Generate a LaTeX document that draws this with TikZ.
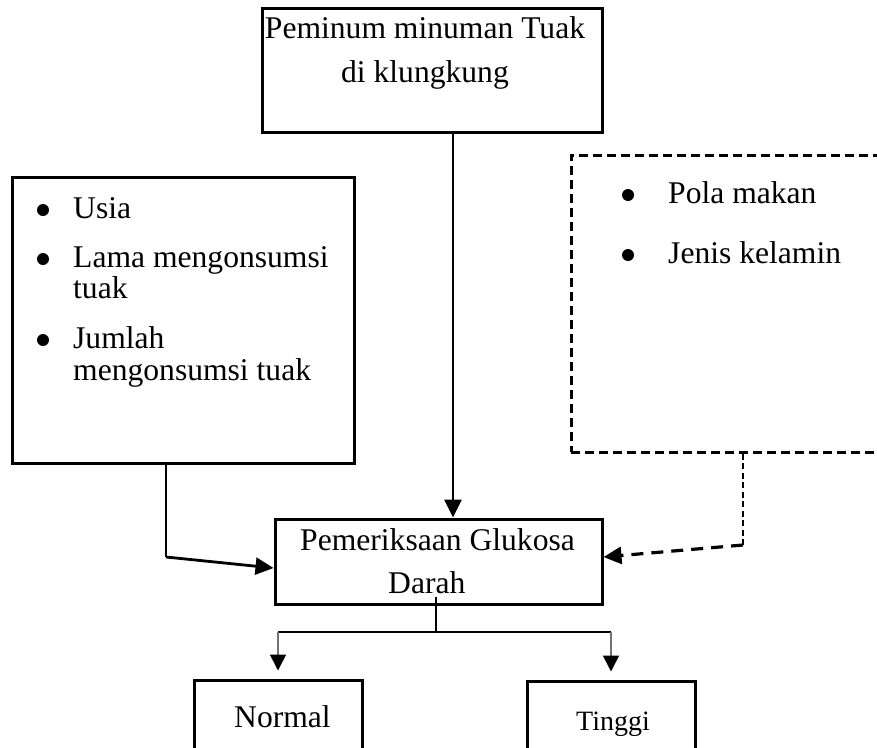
\documentclass[tikz,border=0pt]{standalone}
\usepackage{fontspec}
\setmainfont{Liberation Serif}
\usetikzlibrary{arrows.meta,calc}
\begin{document}
\begin{tikzpicture}[x=1pt,y=-1pt,
  every node/.style={font=\fontsize{31.6}{35}\selectfont},
  boxnode/.style={draw,line width=3pt,inner sep=0pt,rectangle},
  dbox/.style={draw,line width=3pt,dash pattern=on 9pt off 5pt,inner sep=0pt,rectangle},
  txt/.style={anchor=base west,inner sep=0pt},
  bul/.style={circle,fill=black,inner sep=0pt,minimum size=12pt},
  arr/.style={line width=2.8pt,-{Triangle[length=18pt,width=17pt]}},
  thin/.style={line width=1.6pt},
  sarr/.style={line width=1.6pt,draw=black!55,-{Triangle[length=16pt,width=16pt,color=black]}}
]
\useasboundingbox (0,0) rectangle (877,747);

% boxes
\node[boxnode,minimum width=340pt,minimum height=124pt] (top) at (432,70) {};
\node[boxnode,minimum width=342pt,minimum height=286pt] (left) at (183,320) {};
\node[dbox,minimum width=329pt,minimum height=297pt] (right) at (735.5,303.5) {};
\node[boxnode,minimum width=327pt,minimum height=85pt] (pem) at (438.5,561.5) {};
\node[boxnode,minimum width=168pt,minimum height=72pt] (normal) at (278,716) {};
\node[boxnode,minimum width=168pt,minimum height=71pt] (tinggi) at (611,716.5) {};

% texts
\node[anchor=base,inner sep=0pt] (t1) at (425,38) {Peminum minuman Tuak};
\node[anchor=base,inner sep=0pt] (t2) at (425,82) {di klungkung};

\node[bul] (b1) at (43,210) {};
\node[txt] (l1) at (73,218) {Usia};
\node[bul] (b2) at (43,259) {};
\node[txt] (l2) at (73,267) {Lama mengonsumsi};
\node[txt] (l3) at (73,298) {tuak};
\node[bul] (b3) at (43,340) {};
\node[txt] (l4) at (73,348) {Jumlah};
\node[txt] (l5) at (73,380) {mengonsumsi tuak};

\node[bul] (b4) at (628,195) {};
\node[txt] (r1) at (668,203) {Pola makan};
\node[bul] (b5) at (628,255) {};
\node[txt] (r2) at (668,263) {Jenis kelamin};

\node[txt] (p1) at (300,550) {Pemeriksaan Glukosa};
\node[txt] (p2) at (388,593) {Darah};

\node[txt] (n1) at (234,727) {Normal};
\node[txt,font=\fontsize{28}{32}\selectfont] (g1) at (576,730) {Tinggi};

% connectors
\coordinate (lc) at (166,557);
\coordinate (rc) at (743,545);
\coordinate (br) at (436,632);
\coordinate (bs) at (436,597);

\draw[arr] (top.south -| 453,0) -- (pem.north -| 453,0);
\draw[line width=2.8pt] (left.south -| lc) -- (lc);
\draw[arr] (lc) -- ($(pem.west)+(0,6.5)$);
\draw[line width=2pt,dash pattern=on 6pt off 3.5pt] (right.south -| rc) -- (rc);
\draw[line width=3.2pt,dash pattern=on 12pt off 8pt,-{Triangle[length=18pt,width=17pt]}] (rc) -- ($(pem.east)+(0,-4.5)$);

\draw[thin] (bs) -- (br);
\draw[thin] (normal.north |- br) -- (tinggi.north |- br);
\draw[sarr] (normal.north |- br) -- ($(normal.north)+(0,-8)$);
\draw[sarr] (tinggi.north |- br) -- ($(tinggi.north)+(0,-8)$);
\end{tikzpicture}
\end{document}
